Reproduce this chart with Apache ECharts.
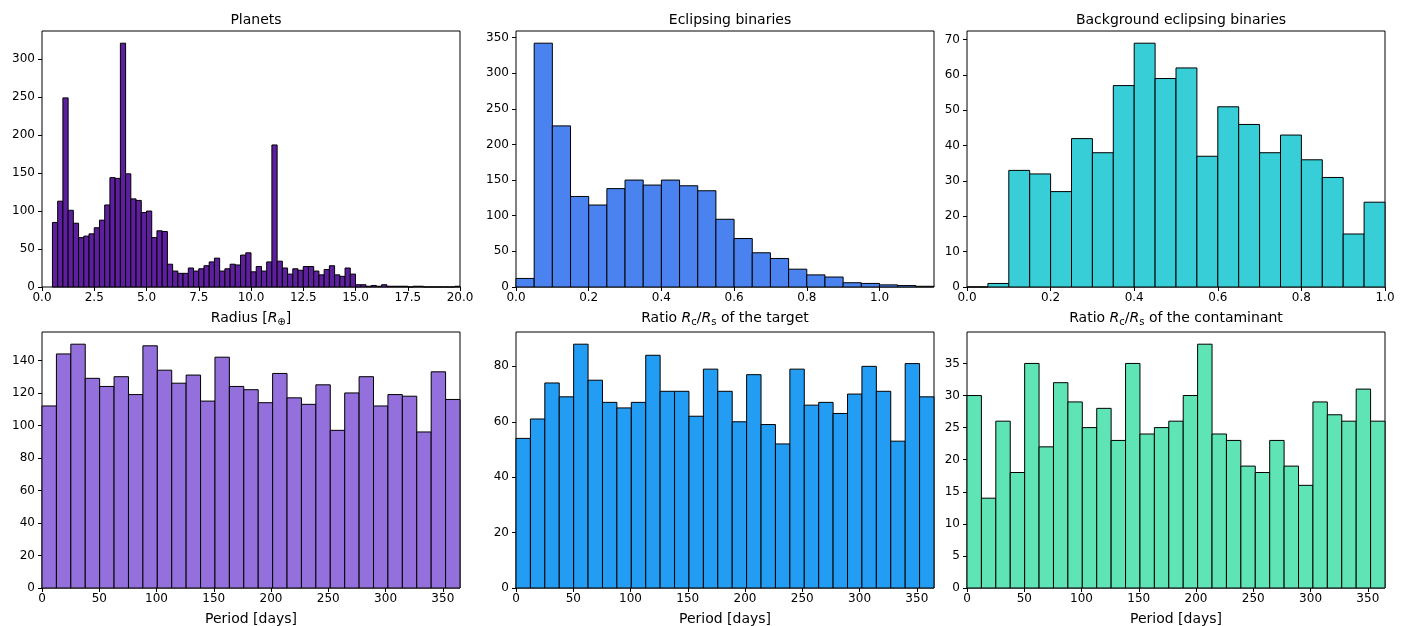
<!DOCTYPE html>
<html>
<head>
<meta charset="utf-8">
<script src="https://cdn.jsdelivr.net/npm/echarts@6/dist/echarts.min.js"></script>
<style>
html,body{margin:0;padding:0;background:#fff;}
#c{width:1411px;height:626px;}
</style>
</head>
<body>
<div id="c"></div>
<script>
// ---------- DATA ----------
// Planets: radius histogram, bins of 0.25 starting at 0.5
const planetRadiusBinStart = 0.5;
const planetRadiusBinWidth = 0.25;
const planetRadiusCounts = [85,113,249,101,84,65,67,70,78,88,108,144,143,321,149,116,114,98,100,65,74,73,
  30,21,18,18,25,21,24,28,33,38,21,24,30,29,42,45,20,27,21,33,187,34,25,17,24,22,27,27,21,16,23,28,16,14,25,17,
  3,3,1,2,1,3,1,1,1,1,0,1,1,0,0,0,0,0,0,1];

// Eclipsing binaries: ratio Rc/Rs of the target, bins of 0.05 from 0
const ebRatioBinStart = 0;
const ebRatioBinWidth = 0.05;
const ebRatioCounts = [12,342,226,127,115,138,150,143,150,142,135,95,68,48,40,25,17,14,6,5,3,2,1];

// Background eclipsing binaries: ratio of the contaminant, bins of 0.05 from 0
const bebRatioBinStart = 0;
const bebRatioBinWidth = 0.05;
const bebRatioCounts = [0,1,33,32,27,42,38,57,69,59,62,37,51,46,38,43,36,31,15,24];

// Period histograms: 29 bins from 0 to 365 days
const periodBinStart = 0;
const periodBinWidth = 365 / 29;
const planetPeriodCounts = [112,144,150,129,124,130,119,149,134,126,131,115,142,124,122,114,132,117,113,125,97,120,130,112,119,118,96,133,116];
const ebPeriodCounts = [54,61,74,69,88,75,67,65,67,84,71,71,62,79,71,60,77,59,52,79,66,67,63,70,80,71,53,81,69];
const bebPeriodCounts = [30,14,26,18,35,22,32,29,25,28,23,35,24,25,26,30,38,24,23,19,18,23,19,16,29,27,26,31,26];

// Tick values
const radiusTicks = [0,2.5,5,7.5,10,12.5,15,17.5,20];
const ratioTicksTarget = [0,0.2,0.4,0.6,0.8,1.0];
const ratioTicksCont = [0,0.2,0.4,0.6,0.8,1.0];
const periodTicks = [0,50,100,150,200,250,300,350];
const yTicksPlanetRadius = [0,50,100,150,200,250,300];
const yTicksEbRatio = [0,50,100,150,200,250,300,350];
const yTicksBebRatio = [0,10,20,30,40,50,60,70];
const yTicksPlanetPeriod = [0,20,40,60,80,100,120,140];
const yTicksEbPeriod = [0,20,40,60,80];
const yTicksBebPeriod = [0,5,10,15,20,25,30,35];

// Titles / labels
const titles = ['Planets','Eclipsing binaries','Background eclipsing binaries'];
const colors = ['#5e1f9f','#4a83ef','#37ced8','#9370db','#239df4','#5ee4b5'];

// ---------- CHART ----------
const FONT = 'DejaVu Sans';
function bins(start, width, counts){
  return counts.map((c,i)=>[start+i*width, start+(i+1)*width, c]);
}
const panels = [
  {data: bins(planetRadiusBinStart, planetRadiusBinWidth, planetRadiusCounts), xmin:0, xmax:20, xt:radiusTicks, xfmt:v=>v.toFixed(1), yt:yTicksPlanetRadius,
   name:'Radius [{i|R}{sub|⊕}]'},
  {data: bins(ebRatioBinStart, ebRatioBinWidth, ebRatioCounts), xmin:0, xmax:1.15, xt:ratioTicksTarget, xfmt:v=>v.toFixed(1), yt:yTicksEbRatio,
   name:'Ratio {i|R}{sub|c}/{i|R}{sub|s} of the target'},
  {data: bins(bebRatioBinStart, bebRatioBinWidth, bebRatioCounts), xmin:0, xmax:1.0, xt:ratioTicksCont, xfmt:v=>v.toFixed(1), yt:yTicksBebRatio,
   name:'Ratio {i|R}{sub|c}/{i|R}{sub|s} of the contaminant'},
  {data: bins(periodBinStart, periodBinWidth, planetPeriodCounts), xmin:0, xmax:365, xt:periodTicks, xfmt:v=>String(v), yt:yTicksPlanetPeriod, name:'Period [days]'},
  {data: bins(periodBinStart, periodBinWidth, ebPeriodCounts), xmin:0, xmax:365, xt:periodTicks, xfmt:v=>String(v), yt:yTicksEbPeriod, name:'Period [days]'},
  {data: bins(periodBinStart, periodBinWidth, bebPeriodCounts), xmin:0, xmax:365, xt:periodTicks, xfmt:v=>String(v), yt:yTicksBebPeriod, name:'Period [days]'}
];

const lefts = [42, 516, 967];
const tops = [31, 332];
const W = 418, H = 256;

const grid = [], xAxis = [], yAxis = [], series = [], title = [];
panels.forEach((p, k) => {
  const col = k % 3, row = Math.floor(k / 3);
  grid.push({left: lefts[col], top: tops[row], width: W, height: H, show: true,
    borderColor: '#000', borderWidth: 1, backgroundColor: 'transparent', containLabel: false,
    outerBoundsMode: 'none'});
  const ymax = Math.max(...p.data.map(d => d[2])) * 1.05;
  xAxis.push({
    type: 'value', gridIndex: k, min: p.xmin, max: p.xmax,
    splitLine: {show: false},
    axisLine: {show: false, onZero: false},
    axisTick: {show: true, inside: false, length: 4, lineStyle: {color: '#000', width: 1}, customValues: p.xt},
    axisLabel: {show: true, margin: 5, color: '#000', fontFamily: FONT, fontSize: 12,
      customValues: p.xt, formatter: v => p.xfmt(v)},
    name: p.name, nameLocation: 'middle', nameGap: 23,
    nameTextStyle: {fontFamily: FONT, fontSize: 14, color: '#000', verticalAlign: 'top', lineHeight: 17,
      rich: {
        i: {fontFamily: FONT, fontSize: 14, fontStyle: 'italic', color: '#000', lineHeight: 17},
        sub: {fontFamily: FONT, fontSize: 10, color: '#000', verticalAlign: 'bottom', lineHeight: 10}
      }}
  });
  yAxis.push({
    type: 'value', gridIndex: k, min: 0, max: ymax,
    splitLine: {show: false},
    axisLine: {show: false},
    axisTick: {show: true, inside: false, length: 4, lineStyle: {color: '#000', width: 1}, customValues: p.yt},
    axisLabel: {show: true, margin: 7, color: '#000', fontFamily: FONT, fontSize: 12, customValues: p.yt}
  });
  const color = colors[k];
  series.push({
    type: 'custom', xAxisIndex: k, yAxisIndex: k,
    data: p.data,
    encode: {x: [0, 1], y: 2},
    renderItem: function (params, api) {
      const x0 = api.value(0), x1 = api.value(1), y = api.value(2);
      const a = api.coord([x0, y]);
      const b = api.coord([x1, 0]);
      return {type: 'rect',
        shape: {x: a[0], y: a[1], width: b[0] - a[0], height: b[1] - a[1]},
        style: {fill: color, stroke: '#000', lineWidth: 1}};
    },
    silent: true, animation: false
  });
  if (row === 0) {
    title.push({text: titles[col], left: lefts[col] + W / 2, top: 8, textAlign: 'center',
      textStyle: {fontFamily: FONT, fontSize: 14, fontWeight: 'normal', color: '#000'}});
  }
});

const chart = echarts.init(document.getElementById('c'), null, {renderer: 'canvas'});
chart.setOption({animation: false, title, grid, xAxis, yAxis, series});
</script>
</body>
</html>
